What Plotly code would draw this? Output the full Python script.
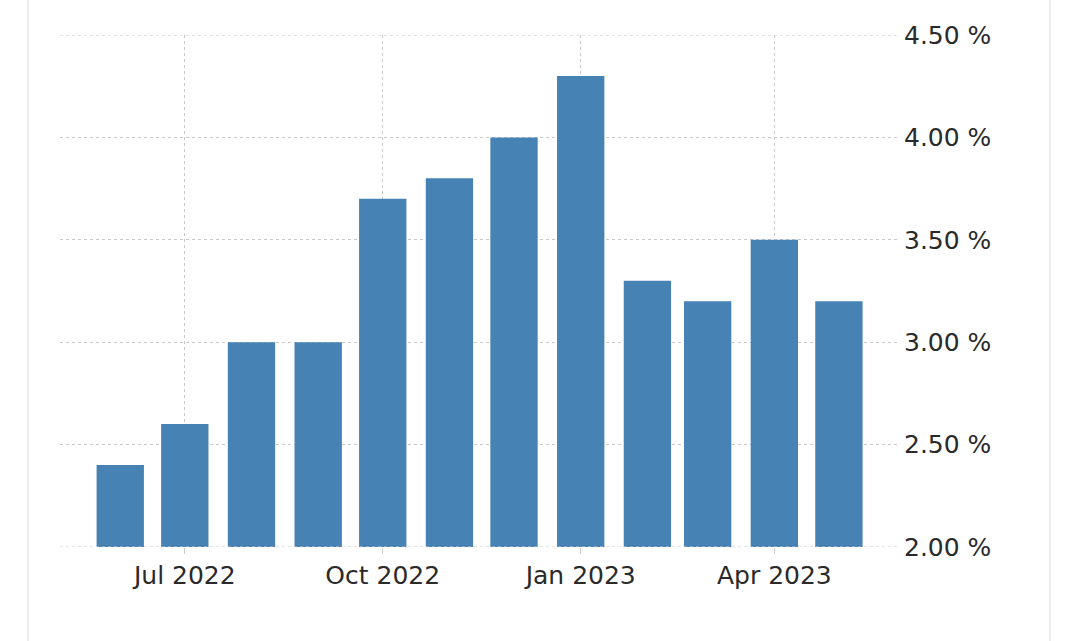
import plotly.graph_objects as go

months = ["2022-06-01", "2022-07-01", "2022-08-01", "2022-09-01", "2022-10-01", "2022-11-01",
          "2022-12-01", "2023-01-01", "2023-02-01", "2023-03-01", "2023-04-01", "2023-05-01"]
values = [2.4, 2.6, 3.0, 3.0, 3.7, 3.8, 4.0, 4.3, 3.3, 3.2, 3.5, 3.2]
tick_dates = ["2022-07-01", "2022-10-01", "2023-01-01", "2023-04-01"]
tick_labels = ["Jul 2022", "Oct 2022", "Jan 2023", "Apr 2023"]
y_ticks = [2.0, 2.5, 3.0, 3.5, 4.0, 4.5]
y_labels = ["2.00 %", "2.50 %", "3.00 %", "3.50 %", "4.00 %", "4.50 %"]

W, H = 1080, 641
L, R, T, B = 60, 183, 35, 94
pw = W - L - R
ph = H - T - B

fig = go.Figure()
fig.add_trace(go.Bar(
    x=months, y=values,
    width=22 * 86400000,
    marker=dict(color="#4682B4", line=dict(width=0)),
    hoverinfo="skip",
))

font = dict(family="DejaVu Sans", size=25, color="#2a2a2a")
grid = "#c8c8c8"

fig.update_layout(
    width=W, height=H,
    margin=dict(l=L, r=R, t=T, b=B),
    paper_bgcolor="white", plot_bgcolor="white",
    showlegend=False,
    font=font,
    xaxis=dict(
        type="date",
        range=["2022-05-04", "2023-05-28"],
        tickvals=tick_dates, ticktext=tick_labels,
        showgrid=True, gridcolor=grid, griddash="dot", gridwidth=1,
        ticks="outside", ticklen=6, tickcolor="#cccccc",
        showline=False, zeroline=False,
        tickfont=font,
    ),
    yaxis=dict(
        side="right",
        range=[2.0, 4.5],
        tickvals=y_ticks, ticktext=y_labels,
        showgrid=True, gridcolor=grid, griddash="dot", gridwidth=1,
        ticks="", ticklabelstandoff=6,
        showline=False, zeroline=False,
        tickfont=font,
    ),
    shapes=[
        dict(type="line", xref="paper", yref="paper",
             x0=(28 - L) / pw, x1=(28 - L) / pw, y0=-B / ph, y1=1 + T / ph,
             line=dict(color="#ececec", width=2)),
        dict(type="line", xref="paper", yref="paper",
             x0=(1050 - L) / pw, x1=(1050 - L) / pw, y0=-B / ph, y1=1 + T / ph,
             line=dict(color="#ececec", width=2)),
        dict(type="line", xref="paper", yref="y",
             x0=0, x1=1, y0=2.0, y1=2.0,
             line=dict(color=grid, width=1, dash="dot"), layer="above"),
        dict(type="line", xref="paper", yref="y",
             x0=0, x1=1, y0=4.5, y1=4.5,
             line=dict(color=grid, width=1, dash="dot"), layer="above"),
    ],
)

fig.write_html("out.html")
